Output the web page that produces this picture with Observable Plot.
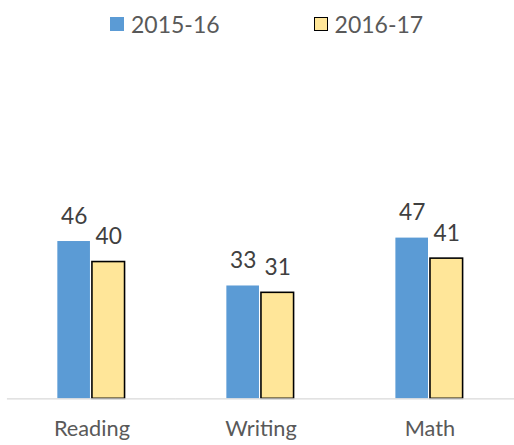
<!DOCTYPE html>
<html>
<head>
<meta charset="utf-8">
<script src="https://cdn.jsdelivr.net/npm/d3@7"></script>
<script src="https://cdn.jsdelivr.net/npm/@observablehq/plot@0.6"></script>
<style>
  body { margin: 0; background: #fff; }
  #wrap { position: relative; width: 514px; height: 445px; overflow: hidden; font-family: Lato, sans-serif; }
  #legend { position: absolute; top: 0; left: 110px; height: 48px; display: flex; align-items: center; font-size: 23px; color: #595959; }
  .item { display: flex; align-items: center; }
  .sw { width: 14px; height: 14px; margin-right: 7px; box-sizing: border-box; }
  #chart { position: absolute; top: 0; left: 0; }
</style>
</head>
<body>
<div id="wrap">
  <div id="chart"></div>
  <div id="legend"></div>
</div>
<script>
const categories = ["Reading", "Writing", "Math"];
const series = ["2015-16", "2016-17"];
const values2015 = [46, 33, 47];
const values2016 = [40, 31, 41];
const fills = ["#5B9BD5", "#FFE699"];
const strokes = ["none", "#000000"];

const rows = [];
categories.forEach((c, i) => {
  rows.push({category: c, series: series[0], value: values2015[i]});
  rows.push({category: c, series: series[1], value: values2016[i]});
});

const chart = Plot.plot({
  width: 520,
  height: 445,
  marginLeft: 7,
  marginRight: 0,
  marginTop: 57,
  marginBottom: 42,
  style: {fontFamily: "Lato, sans-serif", fontSize: "22px", background: "transparent"},
  fx: {domain: categories, padding: 0, label: null},
  x: {domain: series, axis: null, paddingInner: 0.056, paddingOuter: 1.437},
  y: {domain: [0, 100], axis: null},
  marks: [
    Plot.barY(rows.filter(d => d.series === series[0]), {fx: "category", x: "series", y: "value", fill: fills[0]}),
    Plot.barY(rows.filter(d => d.series === series[1]), {fx: "category", x: "series", y: "value", fill: fills[1], stroke: strokes[1], strokeWidth: 1.6}),
    Plot.ruleY([0], {stroke: "#d9d9d9", strokeWidth: 1.3}),
    Plot.text(rows, {fx: "category", x: "series", y: "value", text: d => String(d.value), lineAnchor: "bottom", dy: -18, fill: "#404040", fontSize: 23}),
    Plot.axisFx({anchor: "bottom", tickSize: 0, tickPadding: 22, fontSize: 22, fill: "#595959", label: null})
  ]
});
document.getElementById("chart").appendChild(chart);

const legend = document.getElementById("legend");
series.forEach((s, i) => {
  const item = document.createElement("div");
  item.className = "item";
  if (i > 0) item.style.marginLeft = "94px";
  const sw = document.createElement("span");
  sw.className = "sw";
  sw.style.background = fills[i];
  if (strokes[i] !== "none") sw.style.border = "1.5px solid " + strokes[i];
  const t = document.createElement("span");
  t.textContent = s;
  item.appendChild(sw);
  item.appendChild(t);
  legend.appendChild(item);
});
</script>
</body>
</html>
